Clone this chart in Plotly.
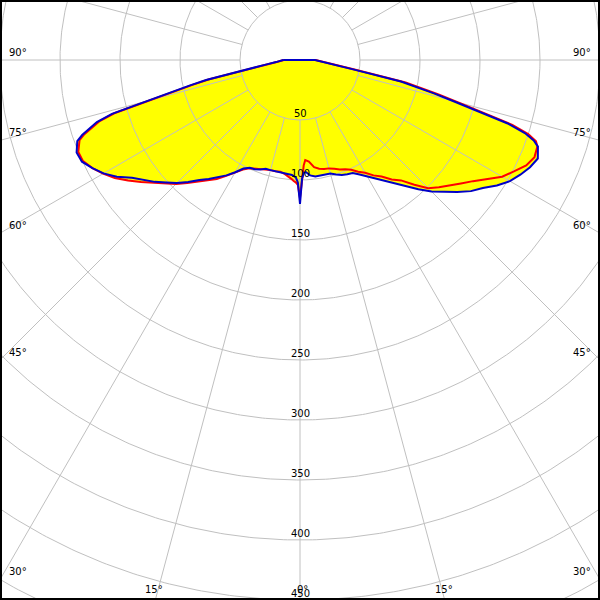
import numpy as np
import plotly.graph_objects as go

# Gamma angles (degrees from nadir) shared by all half-planes
gamma = [0, 1, 2, 3, 4, 5, 7.5, 10, 12.5, 15, 17.5, 20, 22.5, 25, 27.5, 30, 32.5, 35,
         37.5, 40, 42.5, 45, 47.5, 50, 52.5, 55, 57.5, 60, 62.5, 65, 67.5, 70, 71, 72,
         73, 74, 75, 76, 77, 78, 80, 82.5, 85, 87.5, 90]

# Luminous intensity (cd/klm) – blue curve, left and right half-planes
blue_left = [120, 102, 98, 97, 96, 95.5, 95.5, 95, 95, 95, 95, 97, 98.5, 99, 102, 108, 114,
             119.5, 125, 130.5, 138, 145, 151, 158, 164, 171, 181, 189, 195, 200.5, 201.5,
             197.5, 192, 185, 177, 163, 133, 110, 94, 80, 45, 28, 20, 16, 14]
blue_right = [120, 99, 94, 93.5, 95, 96.5, 98, 97.8, 97.3, 98, 100, 102, 103, 104, 107.5, 112,
              117.5, 123, 130, 137.5, 146, 155, 162.5, 171, 179.5, 186, 194.5, 202, 207, 211.5,
              214.5, 211, 206, 197, 181, 155, 132, 115, 100, 86, 45, 27, 19.5, 15, 12.5]

# Red curve, left and right half-planes
red_left = [115, 104, 102, 101, 99.5, 98, 96, 94.5, 95, 95, 95.5, 96.5, 98, 99.5, 103, 108,
            114.5, 121, 126.5, 132.5, 139, 146, 152, 159, 167, 175, 183, 189.5, 195, 199.5,
            200, 195.5, 190, 183, 175, 161, 131, 108, 92, 78, 44, 27, 19.5, 15.5, 13.5]
red_right = [115, 100, 88, 83.5, 84, 85, 90, 92, 93, 93.5, 95, 97, 98.5, 101, 105, 108.5, 114,
             118.5, 125.5, 131, 141, 151, 157, 163, 169, 176, 185, 194.5, 201, 208, 211.5,
             210.5, 208, 200, 185, 160, 137, 119, 104, 90, 47, 28, 20, 15.5, 13]

ring_values = [50, 100, 150, 200, 250, 300, 350, 400, 450, 500]
ring_labels = ["50", "100", "150", "200", "250", "300", "350", "400", "450"]
spoke_angles = list(range(0, 360, 15))
angle_labels = [0, 15, 30, 45, 60, 75, 90]

X_HALF = 250      # visible half-width in intensity units
Y_TOP = 50
Y_BOTTOM = -450

GRID = "#c0c0c0"
FONT = dict(family="DejaVu Sans", size=10, color="black")


def outline(left, right):
    g = np.radians(gamma)
    l = np.asarray(left, float)
    r = np.asarray(right, float)
    xl, yl = -l * np.sin(g), -l * np.cos(g)
    xr, yr = r * np.sin(g), -r * np.cos(g)
    x = np.concatenate([xl[::-1], xr, [xl[-1]]])
    y = np.concatenate([yl[::-1], yr, [yl[-1]]])
    return x, y


fig = go.Figure()

bx, by = outline(blue_left, blue_right)
rx, ry = outline(red_left, red_right)

# yellow fills
for x, y in [(rx, ry), (bx, by)]:
    fig.add_trace(go.Scatter(x=x, y=y, mode="lines", fill="toself",
                             fillcolor="#ffff00", line=dict(width=0, color="#ffff00"),
                             hoverinfo="skip"))

# grid circles
th = np.linspace(0, 2 * np.pi, 721)
gx, gy = [], []
for rv in ring_values:
    gx += list(rv * np.cos(th)) + [None]
    gy += list(rv * np.sin(th)) + [None]
# spokes
for a in spoke_angles:
    ar = np.radians(a)
    gx += [ring_values[0] * np.sin(ar), 800 * np.sin(ar), None]
    gy += [-ring_values[0] * np.cos(ar), -800 * np.cos(ar), None]
fig.add_trace(go.Scatter(x=gx, y=gy, mode="lines", line=dict(color=GRID, width=1),
                         hoverinfo="skip"))

# curves
fig.add_trace(go.Scatter(x=rx, y=ry, mode="lines", line=dict(color="#ff0000", width=2),
                         hoverinfo="skip"))
fig.add_trace(go.Scatter(x=bx, y=by, mode="lines", line=dict(color="#0000c8", width=2),
                         hoverinfo="skip"))

annotations = []
for lab in ring_labels:
    v = float(lab)
    annotations.append(dict(x=0, y=-v, text=lab, showarrow=False, yshift=7,
                            xanchor="center", yanchor="middle", font=FONT))

for a in angle_labels:
    ar = np.radians(a)
    for side in ([1] if a == 0 else [-1, 1]):
        sx = np.sin(ar)
        cy = np.cos(ar)
        t_side = X_HALF / sx if sx > 1e-9 else np.inf
        t_bot = -Y_BOTTOM / cy if cy > 1e-9 else np.inf
        if t_side < t_bot:
            ey = -t_side * cy
            if side < 0:
                annotations.append(dict(x=-X_HALF, y=ey, text=f"{a}°", showarrow=False,
                                        xanchor="left", yanchor="middle", xshift=7, yshift=8,
                                        font=FONT))
            else:
                annotations.append(dict(x=X_HALF, y=ey, text=f"{a}°", showarrow=False,
                                        xanchor="right", yanchor="middle", xshift=-7, yshift=8,
                                        font=FONT))
        else:
            ex = side * t_bot * sx
            annotations.append(dict(x=ex, y=Y_BOTTOM, text=f"{a}°", showarrow=False,
                                    xanchor="center", yanchor="middle", yshift=11,
                                    xshift=2 if a == 0 else -1, font=FONT))

fig.update_layout(
    width=600, height=600,
    margin=dict(l=0, r=0, t=0, b=0),
    paper_bgcolor="white", plot_bgcolor="white",
    showlegend=False,
    xaxis=dict(range=[-X_HALF, X_HALF], visible=False, fixedrange=True),
    yaxis=dict(range=[Y_BOTTOM, Y_TOP], visible=False, fixedrange=True),
    annotations=annotations,
    shapes=[dict(type="rect", xref="paper", yref="paper", x0=0, y0=0, x1=1, y1=1,
                 line=dict(color="black", width=4), layer="above")],
)

fig.write_html("out.html",
               config={"displayModeBar": False, "staticPlot": True},
               post_script="document.body.style.margin='0px';"
                           "document.body.style.overflow='hidden';")
